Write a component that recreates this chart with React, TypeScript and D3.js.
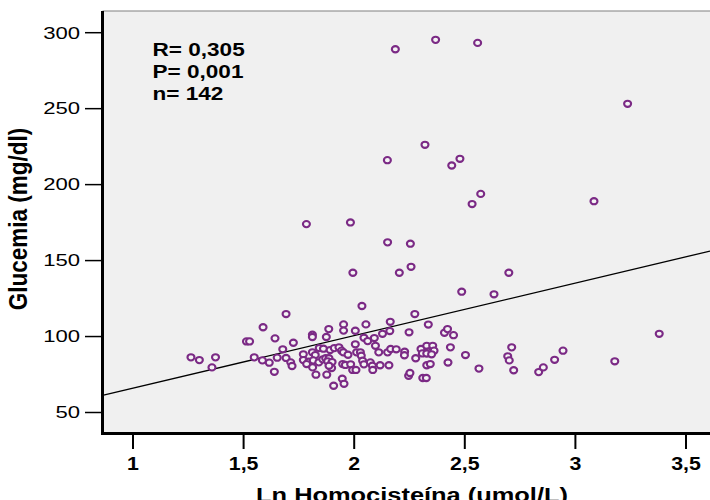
import React from "react";
import * as d3 from "d3";

const lnHcy: number[] = [
  1.262, 1.3, 1.357, 1.373, 1.513, 1.527, 1.588, 1.692, 1.642, 1.725,
  1.677, 1.548, 1.585, 1.616, 1.652, 1.692, 1.713, 1.719, 1.639, 1.811,
  1.811, 1.874, 1.885, 1.952, 1.952, 2.005, 2.035, 2.053, 2.044, 2.061,
  2.005, 2.091, 2.096, 2.128, 2.163, 2.161, 2.274, 2.248, 2.335, 2.408,
  2.422, 2.449, 2.435, 2.503, 2.424, 2.564, 1.77, 1.811, 1.824, 1.842,
  1.861, 1.891, 1.91, 1.931, 1.943, 1.951, 1.972, 2.011, 2.028, 2.032,
  2.038, 2.044, 2.073, 2.082, 2.111, 2.151, 2.165, 2.19, 2.228, 2.227,
  2.278, 2.302, 2.328, 2.355, 2.308, 2.335, 2.361, 2.328, 2.35, 1.77,
  1.794, 1.815, 1.785, 1.812, 1.84, 1.858, 1.871, 1.886, 1.88, 1.9,
  1.898, 1.886, 1.948, 1.96, 1.984, 1.993, 2.008, 1.827, 1.876, 1.946,
  1.954, 1.907, 2.084, 2.117, 2.157, 2.246, 2.252, 2.31, 2.326, 2.328,
  2.344, 2.712, 2.694, 2.701, 2.721, 2.834, 2.855, 2.906, 2.944, 3.178,
  3.379, 2.486, 2.632, 2.699, 2.257, 2.204, 1.994, 2.151, 2.254, 1.784,
  1.983, 2.15, 2.32, 2.441, 2.478, 2.533, 2.572, 3.084, 2.186, 2.368,
  2.558, 3.236,
];

const glucemia: number[] = [
  86.3, 84.5, 79.7, 86.3, 96.8, 96.8, 106.1, 114.8, 98.8, 95.9,
  91.6, 86.3, 84.3, 82.8, 86.1, 85.9, 83.0, 80.6, 76.8, 101.2,
  99.7, 99.7, 104.9, 108.0, 103.9, 103.8, 120.1, 108.0, 99.2, 97.0,
  94.9, 99.0, 93.9, 101.8, 109.7, 103.6, 114.8, 102.8, 107.9, 102.5,
  104.9, 100.9, 92.9, 87.8, 82.9, 78.9, 88.3, 89.6, 87.8, 92.4,
  92.0, 91.1, 92.4, 92.9, 90.7, 89.6, 88.0, 89.6, 89.6, 87.4,
  84.1, 81.7, 83.0, 80.8, 89.6, 89.6, 91.8, 91.6, 90.0, 87.7,
  85.7, 91.8, 93.9, 93.9, 88.9, 90.0, 90.7, 88.8, 88.3, 84.5,
  83.4, 84.3, 81.9, 79.7, 83.0, 85.0, 85.7, 85.7, 83.7, 83.2,
  79.3, 80.8, 81.9, 81.3, 81.7, 78.0, 78.0, 74.9, 74.9, 72.2,
  68.9, 67.6, 78.0, 81.1, 81.1, 74.2, 76.0, 72.7, 72.7, 81.1,
  81.9, 92.9, 87.0, 84.3, 77.8, 76.6, 79.7, 84.7, 90.7, 83.7,
  101.8, 129.5, 127.8, 142.0, 145.9, 142.0, 142.0, 162.0, 161.1, 174.0,
  175.1, 216.1, 226.2, 212.6, 217.0, 187.2, 193.9, 189.1, 289.1, 295.3,
  293.3, 253.2,
];

const xTicks: number[] = [1, 1.5, 2, 2.5, 3, 3.5];
const yTicks: number[] = [50, 100, 150, 200, 250, 300];
const statLines: string[] = ["R= 0,305", "P= 0,001", "n= 142"];
const regression = { intercept: 31.4, slope: 34.6 };
const xTitle = "Ln Homocisteína (umol/L)";
const yTitle = "Glucemia (mg/dl)";

const fmt = (v: number) => String(v).replace(".", ",");

export default function App() {
  const W = 710;
  const H = 500;
  const left = 102.5;
  const top = 11;
  const bottom = 433.5;
  const x = d3.scaleLinear().domain([1, 3.5]).range([133, 686]);
  const y = d3.scaleLinear().domain([50, 300]).range([412.5, 32.7]);
  const xMin = x.invert(left);
  const xMax = x.invert(W);
  const line = d3
    .line<number>()
    .x((d) => x(d))
    .y((d) => y(regression.intercept + regression.slope * d));
  const font = "'Liberation Sans', Arial, Helvetica, sans-serif";
  const sx = 1.22;

  return (
    <svg
      width={W}
      height={H}
      style={{ position: "absolute", left: 0, top: 0, background: "#fff" }}
      fontFamily={font}
    >
      <rect x={left} y={top} width={W - left} height={bottom - top} fill="#f0f0f0" />
      <line x1={left} x2={W} y1={top} y2={top} stroke="#808080" strokeWidth={1.2} />
      <defs>
        <clipPath id="plotclip">
          <rect x={left} y={top} width={W - left} height={bottom - top} />
        </clipPath>
      </defs>
      <g clipPath="url(#plotclip)">
        <path d={line([xMin, xMax]) || ""} stroke="#000" strokeWidth={1.3} fill="none" />
        {lnHcy.map((v, i) => (
          <ellipse
            key={i}
            cx={x(v)}
            cy={y(glucemia[i])}
            rx={3.5}
            ry={3.1}
            fill="#f4f4f4"
            stroke="#7b2a85"
            strokeWidth={2.1}
          />
        ))}
      </g>
      {/* axes */}
      <line x1={left} x2={left} y1={top} y2={bottom + 1.5} stroke="#000" strokeWidth={3} />
      <line x1={left - 1.5} x2={W} y1={bottom} y2={bottom} stroke="#000" strokeWidth={3} />
      {yTicks.map((t) => (
        <g key={t}>
          <line x1={85} x2={left} y1={y(t)} y2={y(t)} stroke="#000" strokeWidth={1.5} />
          <text
            transform={`translate(80,${y(t) + 5.8}) scale(1.38,1)`}
            textAnchor="end"
            fontSize={16}
            fill="#000"
          >
            {fmt(t)}
          </text>
        </g>
      ))}
      {xTicks.map((t) => (
        <g key={t}>
          <line x1={x(t)} x2={x(t)} y1={bottom} y2={449} stroke="#000" strokeWidth={2} />
          <text
            transform={`translate(${x(t)},470) scale(${sx},1)`}
            textAnchor="middle"
            fontSize={17.5}
            fontWeight="bold"
            fill="#000"
          >
            {fmt(t)}
          </text>
        </g>
      ))}
      <text
        transform={`translate(412,502) scale(1.27,1)`}
        textAnchor="middle"
        fontSize={20}
        fontWeight="bold"
        fill="#000"
      >
        {xTitle}
      </text>
      <text
        transform={`translate(26.7,219) scale(1.13,1) rotate(-90)`}
        textAnchor="middle"
        fontSize={22.5}
        fontWeight="bold"
        fill="#000"
      >
        {yTitle}
      </text>
      {statLines.map((s, i) => (
        <text
          key={s}
          transform={`translate(152.5,${56 + i * 22}) scale(${sx},1)`}
          fontSize={18.5}
          fontWeight="bold"
          fill="#000"
        >
          {s}
        </text>
      ))}
    </svg>
  );
}
